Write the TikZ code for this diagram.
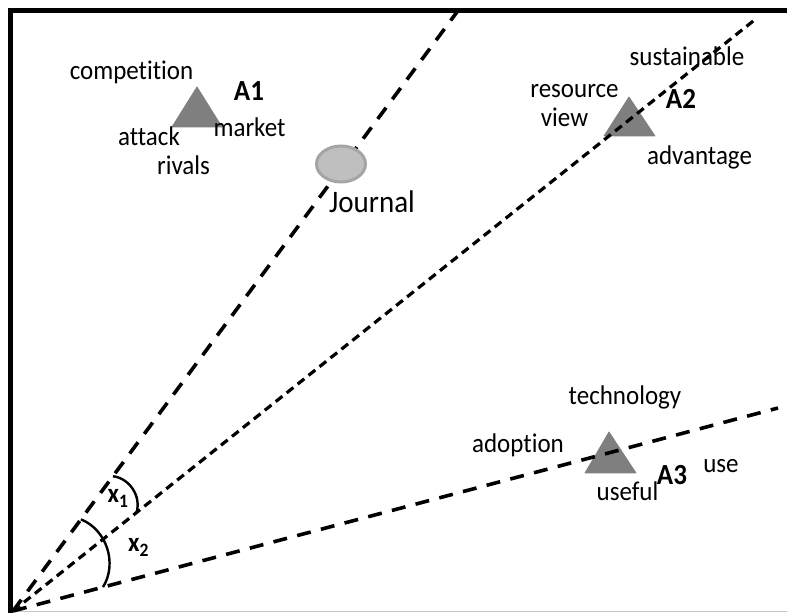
\documentclass[tikz,border=0pt]{standalone}
\usepackage{fontspec}
\usepackage{graphicx}
\setmainfont[Ligatures=NoCommon]{Carlito}
\usetikzlibrary{calc,shapes.geometric}
\definecolor{triGray}{HTML}{7F7F7F}
\definecolor{ellFill}{HTML}{BFBFBF}
\definecolor{ellDraw}{HTML}{A5A5A5}
\definecolor{baseGray}{HTML}{C8C8C8}
\newcommand{\vstretch}[1]{\scalebox{1}[1.08]{#1}}
\begin{document}
\begin{tikzpicture}[x=1pt,y=1pt,
  lbl/.style={anchor=base,inner sep=0pt,font=\fontsize{25}{30}\selectfont},
  jlbl/.style={anchor=base,inner sep=0pt,font=\fontsize{29}{34}\selectfont},
  albl/.style={anchor=base,inner sep=0pt,font=\fontsize{27}{32}\selectfont\bfseries},
  xlbl/.style={anchor=base,inner sep=0pt,font=\fontsize{25}{30}\selectfont\bfseries},
  tri/.style={fill=triGray,draw=triGray,line width=0.8pt,line join=round},
  longdash/.style={line width=3.6pt,dash pattern=on 14pt off 10.5pt},
  shortdash/.style={line width=3.2pt,dash pattern=on 8.5pt off 5.5pt},
  anglearc/.style={line width=2.4pt},
]
\useasboundingbox (0,0) rectangle (787,613);
% frame
\draw[baseGray,line width=1pt] (10,1.5) -- (787,1.5);
\draw[line width=4.5pt,line join=miter] (10.5,0) -- (10.5,602.5) -- (787,602.5);
% triangles
\fill[tri] (197,526) -- (222,486) -- (172,486) -- cycle;
\fill[tri] (629,516) -- (655,477) -- (604,477) -- cycle;
\fill[tri] (609,181) -- (636,140) -- (585,140) -- cycle;
% labels
\node[lbl] (competition) at (131.5,533.5) {\vstretch{competition}};
\node[albl] (a1) at (249,512.5) {\vstretch{A1}};
\node[lbl] (market) at (249.5,476.5) {\vstretch{market}};
\node[lbl] (attack) at (149,467) {\vstretch{attack}};
\node[lbl] (rivals) at (183.5,438) {\vstretch{rivals}};
\node[lbl] (sustainable) at (687,547.5) {\vstretch{sustainable}};
\node[lbl] (resource) at (574.5,515.5) {\vstretch{resource}};
\node[lbl] (view) at (564.5,486.5) {\vstretch{view}};
\node[albl] (a2) at (681,504) {\vstretch{A2}};
\node[lbl] (advantage) at (699.5,448) {\vstretch{advantage}};
\node[lbl] (technology) at (625,208) {\vstretch{technology}};
\node[lbl] (adoption) at (518,160) {\vstretch{adoption}};
\node[lbl] (useful) at (627.5,112.5) {\vstretch{useful}};
\node[albl] (a3) at (672,128) {\vstretch{A3}};
\node[lbl] (use) at (721,140) {\vstretch{use}};
\node[jlbl] (journal) at (372,400) {\vstretch{Journal}};
% rays
\coordinate (O) at (13,2);
\coordinate (L1) at (457,601);
\coordinate (L2) at (757,595);
\coordinate (L3) at (778,205);
\draw[longdash] (O) -- (L1);
\draw[shortdash] (O) -- (L2);
\draw[longdash] (O) -- (L3);
% journal ellipse
\node[ellipse,fill=ellFill,draw=ellDraw,line width=3pt,minimum width=49pt,minimum height=36pt,inner sep=0pt] (journalellipse) at (341,449) {};
% angle arcs
\coordinate (A) at ($(O)!0.225!(L1)$);
\coordinate (B) at ($(O)!0.166!(L2)$);
\coordinate (C) at ($(O)!0.153!(L1)$);
\coordinate (D) at ($(O)!0.1176!(L3)$);
\draw[anglearc] (A) to[bend left=50] (B);
\draw[anglearc] (C) to[bend left=50] (D);
\node[xlbl] (x1) at (118,110) {\vstretch{x\textsubscript{1}}};
\node[xlbl] (x2) at (138.5,61) {\vstretch{x\textsubscript{2}}};
\end{tikzpicture}
\end{document}
